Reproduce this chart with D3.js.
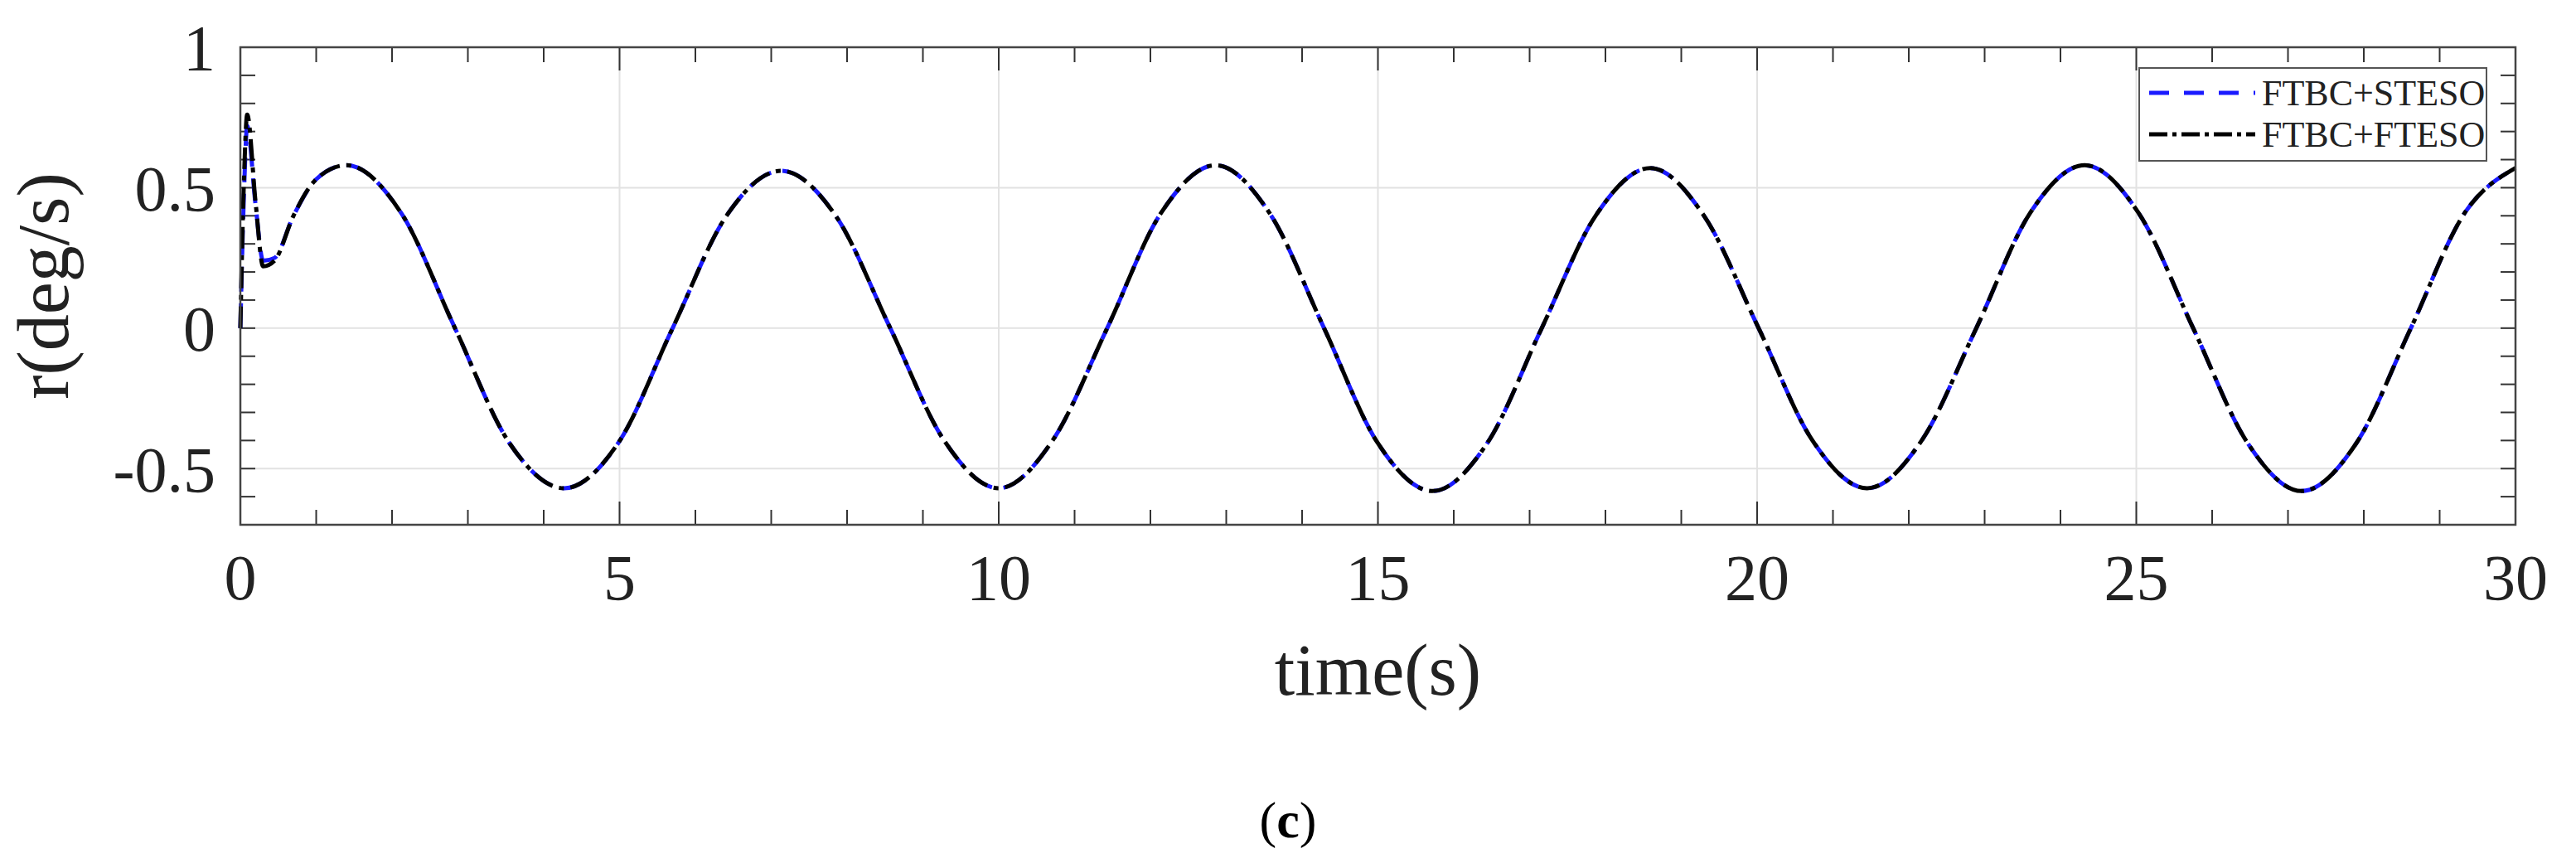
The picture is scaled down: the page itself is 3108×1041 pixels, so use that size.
<!DOCTYPE html>
<html>
<head>
<meta charset="utf-8">
<script src="https://cdn.jsdelivr.net/npm/d3@7"></script>
<style>
  body { margin: 0; background: #fff; }
  text { font-family: "Liberation Serif", serif; }
</style>
</head>
<body>
<div id="chart"></div>
<script>
const W = 3108, H = 1041
let margin = {top: 57, right: 73, bottom: 408, left: 290}
let width = W - margin.left - margin.right
let height = H - margin.top - margin.bottom

const xTicks = [0, 5, 10, 15, 20, 25, 30]
const yTicks = [-0.5, 0, 0.5, 1]
const seriesNames = ["FTBC+STESO", "FTBC+FTESO"]

// time (s) and r (deg/s)
const timeS = [0, 0.05, 0.09, 0.2, 0.3, 0.45, 0.7, 1.0, 1.4, 2.12, 2.83, 3.55, 4.27, 4.98, 5.70,
  6.41, 7.13, 7.85, 8.57, 9.28, 10.0, 10.71, 11.43, 12.14, 12.86, 13.57, 14.29, 15.0, 15.72,
  16.44, 17.16, 17.87, 18.59, 19.3, 20.02, 20.73, 21.45, 22.17, 22.89, 23.6, 24.32, 25.03,
  25.75, 26.47, 27.18, 27.9, 28.62, 29.33, 30]
const rSteso = [0, 0.50, 0.72, 0.44, 0.24, 0.25, 0.40, 0.53, 0.58, 0.41, 0, -0.41, -0.57, -0.41, 0,
  0.40, 0.56, 0.40, 0, -0.40, -0.57, -0.40, 0, 0.41, 0.58, 0.41, 0, -0.41, -0.58,
  -0.41, 0, 0.40, 0.57, 0.40, 0, -0.40, -0.57, -0.40, 0, 0.41, 0.58, 0.41,
  0, -0.41, -0.58, -0.41, 0, 0.41, 0.57]
const rFteso = [0, 0.55, 0.76, 0.45, 0.22, 0.24, 0.40, 0.53, 0.58, 0.41, 0, -0.41, -0.57, -0.41, 0,
  0.40, 0.56, 0.40, 0, -0.40, -0.57, -0.40, 0, 0.41, 0.58, 0.41, 0, -0.41, -0.58,
  -0.41, 0, 0.40, 0.57, 0.40, 0, -0.40, -0.57, -0.40, 0, 0.41, 0.58, 0.41,
  0, -0.41, -0.58, -0.41, 0, 0.41, 0.57]

let svg = d3.select("#chart").append("svg")
    .attr("width", W).attr("height", H)
let g = svg.append("g")
    .attr("transform", "translate(" + margin.left + "," + margin.top + ")")

let x = d3.scaleLinear().domain([0, 30]).range([0, width])
let y = d3.scaleLinear().domain([-0.7, 1]).range([height, 0])

// grid
g.selectAll(".gx").data(xTicks.slice(1, -1)).join("line")
    .attr("x1", d => x(d)).attr("x2", d => x(d)).attr("y1", 0).attr("y2", height)
    .attr("stroke", "#e2e2e2").attr("stroke-width", 2)
g.selectAll(".gy").data([-0.5, 0, 0.5]).join("line")
    .attr("x1", 0).attr("x2", width).attr("y1", d => y(d)).attr("y2", d => y(d))
    .attr("stroke", "#e2e2e2").attr("stroke-width", 2)

// inward ticks on all four sides
const xMinor = d3.range(0, 31, 1)
const yMinor = d3.range(-7, 11).map(d => d / 10)
function tickLen(major) { return major ? 28 : 18 }
g.selectAll(".tb").data(xMinor).join("line")
    .attr("x1", d => x(d)).attr("x2", d => x(d))
    .attr("y1", height).attr("y2", d => height - tickLen(d % 5 === 0))
    .attr("stroke", "#333").attr("stroke-width", 2)
g.selectAll(".tt").data(xMinor).join("line")
    .attr("x1", d => x(d)).attr("x2", d => x(d))
    .attr("y1", 0).attr("y2", d => tickLen(d % 5 === 0))
    .attr("stroke", "#333").attr("stroke-width", 2)
g.selectAll(".tl").data(yMinor).join("line")
    .attr("y1", d => y(d)).attr("y2", d => y(d))
    .attr("x1", 0).attr("x2", 18)
    .attr("stroke", "#333").attr("stroke-width", 2)
g.selectAll(".tr").data(yMinor).join("line")
    .attr("y1", d => y(d)).attr("y2", d => y(d))
    .attr("x1", width).attr("x2", width - 18)
    .attr("stroke", "#333").attr("stroke-width", 2)

let line = d3.line().x(d => x(d[0])).y(d => y(d[1])).curve(d3.curveMonotoneX)

g.append("path").datum(timeS.map((t, i) => [t, rSteso[i]]))
    .attr("d", line).attr("fill", "none")
    .attr("stroke", "#1a1aff").attr("stroke-width", 5)
    .attr("stroke-dasharray", "30,14")
g.append("path").datum(timeS.map((t, i) => [t, rFteso[i]]))
    .attr("d", line).attr("fill", "none")
    .attr("stroke", "#000").attr("stroke-width", 5)
    .attr("stroke-dasharray", "26,8,6,8")

// frame
g.append("rect").attr("width", width).attr("height", height)
    .attr("fill", "none").attr("stroke", "#444").attr("stroke-width", 2.5)

// tick labels
g.selectAll(".xl").data(xTicks).join("text")
    .attr("x", d => x(d)).attr("y", height + 90)
    .attr("text-anchor", "middle").style("font-size", "78px").attr("fill", "#222")
    .text(d => d)
g.selectAll(".yl").data(yTicks).join("text")
    .attr("x", -30).attr("y", d => y(d)).attr("dy", "0.35em")
    .attr("text-anchor", "end").style("font-size", "78px").attr("fill", "#222")
    .text(d => d)

svg.append("text")
    .attr("x", margin.left + width / 2).attr("y", 838)
    .attr("text-anchor", "middle").style("font-size", "88px").attr("fill", "#222")
    .text("time(s)")
svg.append("text")
    .attr("transform", "translate(82," + (margin.top + height / 2) + ") rotate(-90)")
    .attr("text-anchor", "middle").style("font-size", "88px").attr("fill", "#222")
    .text("r(deg/s)")

let cap = svg.append("text")
    .attr("x", W / 2).attr("y", 1010)
    .attr("text-anchor", "middle").style("font-size", "62px")
cap.append("tspan").text("(")
cap.append("tspan").style("font-weight", "bold").text("c")
cap.append("tspan").text(")")

// legend
let lg = svg.append("g").attr("transform", "translate(2581,82)")
lg.append("rect").attr("width", 419).attr("height", 112)
    .attr("fill", "#fff").attr("stroke", "#555").attr("stroke-width", 2)
const legStyles = [{c: "#1a1aff", dash: "24,18"}, {c: "#000", dash: "22,6,5,6"}]
seriesNames.forEach((name, i) => {
    let yy = 30 + i * 50
    lg.append("line").attr("x1", 12).attr("x2", 140).attr("y1", yy).attr("y2", yy)
        .attr("stroke", legStyles[i].c).attr("stroke-width", 5)
        .attr("stroke-dasharray", legStyles[i].dash)
    lg.append("text").attr("x", 148).attr("y", yy).attr("dy", "0.35em")
        .style("font-size", "44px").attr("fill", "#222").text(name)
})
</script>
</body>
</html>
